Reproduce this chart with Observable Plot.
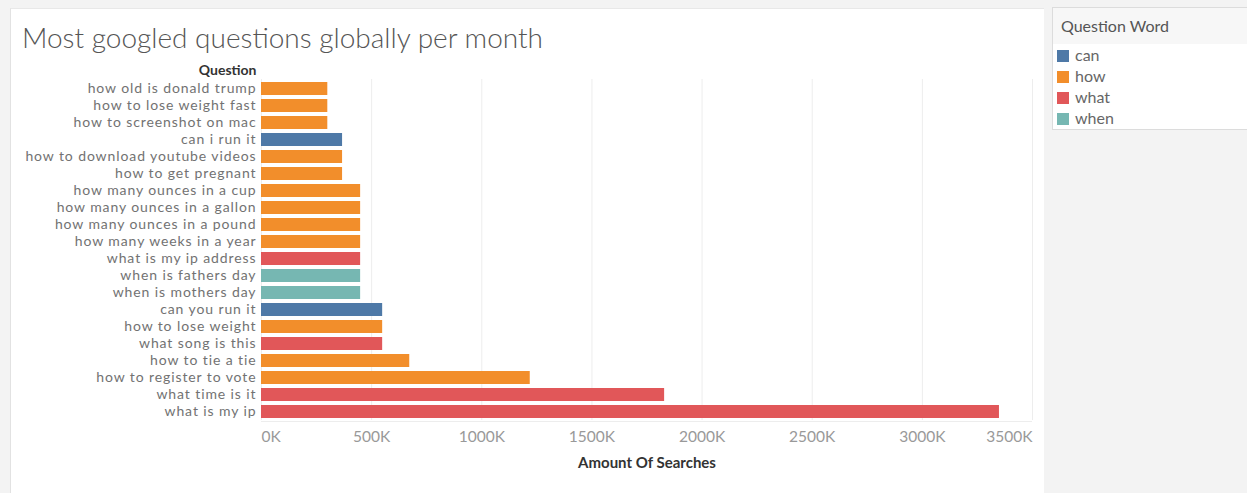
<!DOCTYPE html>
<html>
<head>
<meta charset="utf-8">
<script src="https://cdn.jsdelivr.net/npm/d3@7"></script>
<script src="https://cdn.jsdelivr.net/npm/@observablehq/plot@0.6"></script>
<style>
  html, body { margin: 0; padding: 0; }
  body { width: 1247px; height: 493px; background: #f3f3f3; position: relative; overflow: hidden; font-family: Lato, sans-serif; }
  #panel { position: absolute; left: 10px; top: 8px; width: 1033px; height: 485px; background: #fff; border-left: 1px solid #e2e2e2; border-top: 1px solid #e8e8e8; }
  #title { position: absolute; left: 22px; top: 20px; font-size: 28px; font-weight: 300; color: #555; white-space: nowrap; }
  #chart { position: absolute; left: 0; top: 0; }
  #chart g[aria-label="y-axis tick label"] text { letter-spacing: 0.9px; }
  #legend { position: absolute; left: 1052px; top: 7px; width: 195px; height: 121px; background: #fff; border: 1px solid #dcdcdc; }
  #legend .head { background: #f7f7f7; height: 36px; font-size: 16px; color: #555; padding-left: 8px; line-height: 36px; }
  #legend .item { position: absolute; left: 4px; font-size: 16px; color: #666; height: 21px; line-height: 21px; }
  #legend .sw { display: inline-block; width: 12px; height: 12px; margin-right: 6px; vertical-align: -1px; }
</style>
</head>
<body>
<div id="panel"></div>
<div id="chart"></div>
<div id="title">Most googled questions globally per month</div>
<div id="legend"><div class="head">Question Word</div></div>
<script>
const questions = [
  "how old is donald trump", "how to lose weight fast", "how to screenshot on mac",
  "can i run it", "how to download youtube videos", "how to get pregnant",
  "how many ounces in a cup", "how many ounces in a gallon", "how many ounces in a pound",
  "how many weeks in a year", "what is my ip address", "when is fathers day",
  "when is mothers day", "can you run it", "how to lose weight", "what song is this",
  "how to tie a tie", "how to register to vote", "what time is it", "what is my ip"
];
const searches = [
  301000, 301000, 301000,
  368000, 368000, 368000,
  450000, 450000, 450000,
  450000, 450000, 450000,
  450000, 550000, 550000, 550000,
  673000, 1220000, 1830000, 3350000
];
const words = [
  "how", "how", "how",
  "can", "how", "how",
  "how", "how", "how",
  "how", "what", "when",
  "when", "can", "how", "what",
  "how", "how", "what", "what"
];
const wordDomain = ["can", "how", "what", "when"];
const wordColors = ["#4e79a7", "#f28e2b", "#e15759", "#76b7b2"];
const xTicks = [0, 500000, 1000000, 1500000, 2000000, 2500000, 3000000, 3500000];

const data = questions.map((q, i) => ({question: q, value: searches[i], word: words[i]}));
const fmt = d => (d / 1000) + "K";
const font = "Lato, sans-serif";

const chart = Plot.plot({
  width: 1043,
  height: 493,
  marginLeft: 261,
  marginRight: 11,
  marginTop: 79,
  marginBottom: 73,
  style: {background: "transparent", fontFamily: font},
  x: {domain: [0, 3500000], axis: null},
  y: {domain: questions, axis: null, paddingInner: 0.24, paddingOuter: 0.12},
  color: {domain: wordDomain, range: wordColors},
  marks: [
    Plot.gridX(xTicks.slice(1), {stroke: "#ededed", strokeOpacity: 1}),
    Plot.ruleX([0], {stroke: "#ededed"}),
    Plot.ruleY([questions[questions.length - 1]], {stroke: "#ededed", dy: 9.5}),
    Plot.barX(data, {x: "value", y: "question", fill: "word"}),
    Plot.axisY({tickSize: 0, tickPadding: 5, fontSize: 14, fill: "#727272", label: null}),
    Plot.text(["Question"], {frameAnchor: "top-left", x: 0, dx: -5, dy: -14, textAnchor: "end", fontWeight: "bold", fontSize: 14, fill: "#333"}),
    Plot.axisX([0], {tickSize: 0, tickPadding: 10, tickFormat: fmt, textAnchor: "start", fontSize: 15.5, fill: "#999", label: null}),
    Plot.axisX(xTicks.slice(1, -1), {tickSize: 0, tickPadding: 10, tickFormat: fmt, fontSize: 15.5, fill: "#999", label: null}),
    Plot.axisX([3500000], {tickSize: 0, tickPadding: 10, tickFormat: fmt, textAnchor: "end", fontSize: 15.5, fill: "#999", label: null}),
    Plot.text(["Amount Of Searches"], {frameAnchor: "bottom", dy: 47, fontWeight: "bold", fontSize: 15, fill: "#333"})
  ]
});
document.getElementById("chart").appendChild(chart);

const legend = document.getElementById("legend");
wordDomain.forEach((w, i) => {
  const item = document.createElement("div");
  item.className = "item";
  item.style.top = (36 + i * 21) + "px";
  item.innerHTML = `<span class="sw" style="background:${wordColors[i]}"></span>${w}`;
  legend.appendChild(item);
});
</script>
</body>
</html>
